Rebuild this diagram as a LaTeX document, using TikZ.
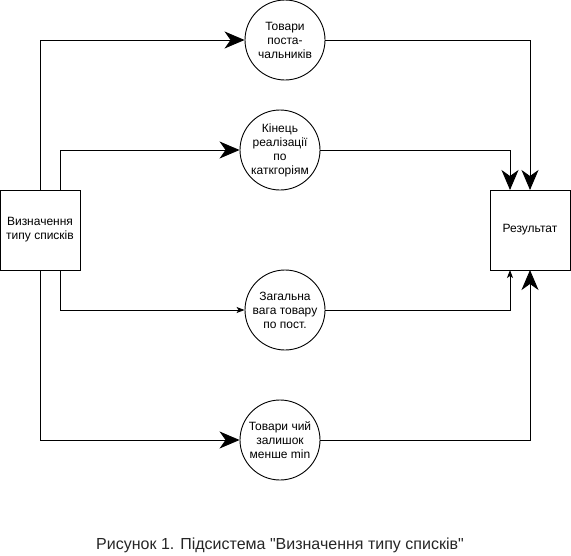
\documentclass[tikz,border=0pt]{standalone}
\usepackage{fontspec}
\setmainfont{Liberation Sans}[Ligatures=TeXOff]
\usetikzlibrary{arrows.meta}
\begin{document}
\begin{tikzpicture}[x=1pt,y=-1pt,
  every path/.style={line width=0.9pt},
  boxnode/.style={draw,minimum width=80pt,minimum height=80pt,inner sep=0pt,align=center,font=\fontsize{12}{14}\selectfont},
  proc/.style={draw,circle,minimum size=80pt,inner sep=0pt,align=center,font=\fontsize{12}{14}\selectfont},
  big/.style={-{Stealth[length=20pt,width=17pt,inset=6pt]}},
  small/.style={-{Stealth[length=8pt,width=6pt,inset=2pt]}}]
\useasboundingbox (0,0) rectangle (571,555);
\node[boxnode] (src) at (40,230) {Визначення\\типу списків};
\node[boxnode] (res) at (530,230) {Результат};
\node[proc] (c1) at (285,40) {Товари\\поста-\\чальників};
\node[proc] (c2) at (280,150) {Кінець\\реалізації\\по\\каткгоріям};
\node[proc] (c3) at (285,310) {Загальна\\вага товару\\по пост.};
\node[proc] (c4) at (280,440) {Товари чий\\залишок\\менше min};
\coordinate (s1) at (40,190);
\coordinate (s2) at (60,190);
\coordinate (s3) at (60,270);
\coordinate (s4) at (40,270);
\coordinate (r1) at (530,190);
\coordinate (r2) at (510,190);
\coordinate (r3) at (510,270);
\coordinate (r4) at (530,270);
\draw[big] (s1) |- (c1.west);
\draw[big] (s2) |- (c2.west);
\draw[small] (s3) |- (c3.west);
\draw[big] (s4) |- (c4.west);
\draw[big] (c1.east) -| (r1);
\draw[big] (c2.east) -| (r2);
\draw[small] (c3.east) -| (r3);
\draw[big] (c4.east) -| (r4);
\node[font=\fontsize{16}{19}\selectfont,text=black!85] (cap) at (280,545) {Рисунок 1. Підсистема "Визначення типу списків"};
\end{tikzpicture}
\end{document}
